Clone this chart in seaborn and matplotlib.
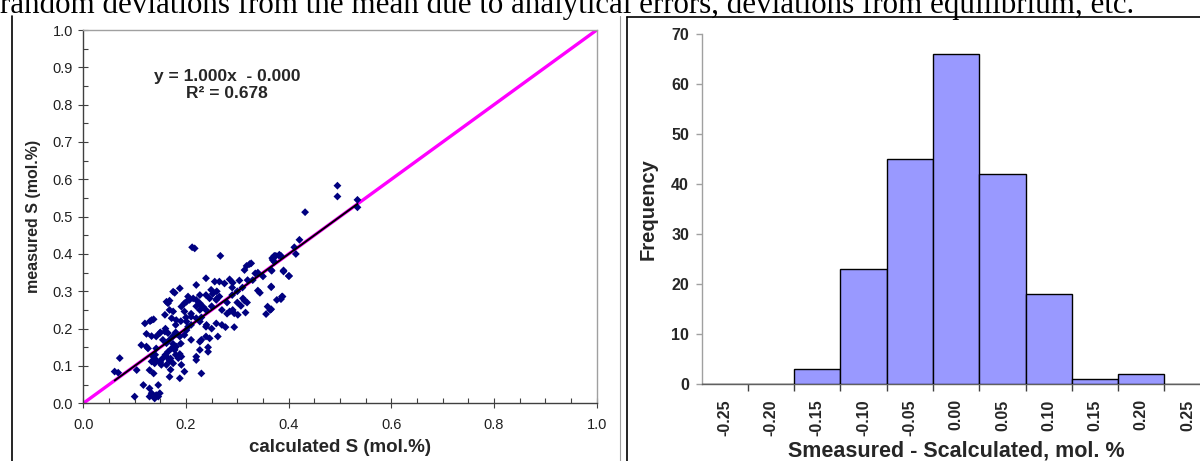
import matplotlib
matplotlib.use("Agg")
import matplotlib.pyplot as plt
from matplotlib.lines import Line2D
from matplotlib.ticker import MultipleLocator, FixedLocator, NullFormatter, FixedFormatter
import seaborn as sns
import numpy as np
import pandas as pd

# ---------------- data ----------------
calc_S = [
    0.212, 0.217, 0.267, 0.318, 0.324, 0.327, 0.314, 0.369, 0.375, 0.381,
    0.385, 0.372, 0.367, 0.390, 0.400, 0.335, 0.285, 0.304, 0.291, 0.239,
    0.256, 0.265, 0.275, 0.340, 0.344, 0.366, 0.359, 0.364, 0.356, 0.385,
    0.388, 0.311, 0.314, 0.319, 0.307, 0.316, 0.291, 0.294, 0.301, 0.285,
    0.294, 0.270, 0.277, 0.249, 0.252, 0.239, 0.246, 0.259, 0.265, 0.220,
    0.227, 0.214, 0.220, 0.227, 0.233, 0.239, 0.227, 0.204, 0.207, 0.201,
    0.197, 0.191, 0.197, 0.162, 0.165, 0.168, 0.172, 0.181, 0.168, 0.159,
    0.175, 0.178, 0.188, 0.175, 0.210, 0.220, 0.227, 0.201, 0.239, 0.259,
    0.246, 0.239, 0.227, 0.210, 0.220, 0.220, 0.227, 0.243, 0.243, 0.262,
    0.230, 0.120, 0.133, 0.137, 0.123, 0.133, 0.142, 0.113, 0.123, 0.126,
    0.142, 0.149, 0.159, 0.165, 0.175, 0.181, 0.188, 0.197, 0.155, 0.162,
    0.168, 0.175, 0.181, 0.172, 0.165, 0.178, 0.136, 0.142, 0.149, 0.155,
    0.162, 0.168, 0.175, 0.162, 0.152, 0.188, 0.191, 0.185, 0.191, 0.168,
    0.133, 0.139, 0.129, 0.137, 0.071, 0.061, 0.068, 0.104, 0.117, 0.129,
    0.146, 0.133, 0.142, 0.149, 0.139, 0.146, 0.100, 0.129, 0.188, 0.197,
    0.210, 0.201, 0.204, 0.495, 0.495, 0.534, 0.534, 0.432, 0.421, 0.411,
    0.414, 0.382, 0.372, 0.368, 0.366, 0.390, 0.401, 0.366, 0.377, 0.387,
    0.366, 0.150, 0.160, 0.170, 0.180, 0.190, 0.210, 0.230, 0.250, 0.260,
    0.280, 0.300, 0.310, 0.330, 0.290, 0.270, 0.200, 0.180, 0.160, 0.190,
    0.240, 0.140, 0.150, 0.170, 0.220, 0.260, 0.320, 0.340, 0.350, 0.300,
    0.230, 0.250, 0.290, 0.280, 0.180, 0.130,
]
meas_S = [
    0.418, 0.415, 0.395, 0.368, 0.373, 0.375, 0.357, 0.384, 0.395, 0.396,
    0.395, 0.379, 0.355, 0.353, 0.341, 0.348, 0.332, 0.329, 0.323, 0.335,
    0.326, 0.326, 0.321, 0.302, 0.296, 0.311, 0.259, 0.250, 0.239, 0.279,
    0.286, 0.281, 0.275, 0.270, 0.261, 0.243, 0.250, 0.241, 0.237, 0.246,
    0.204, 0.210, 0.204, 0.304, 0.293, 0.290, 0.281, 0.277, 0.286, 0.317,
    0.290, 0.281, 0.277, 0.268, 0.259, 0.250, 0.250, 0.286, 0.277, 0.272,
    0.268, 0.259, 0.246, 0.272, 0.268, 0.275, 0.228, 0.223, 0.250, 0.237,
    0.246, 0.296, 0.308, 0.299, 0.232, 0.228, 0.219, 0.219, 0.205, 0.214,
    0.174, 0.179, 0.165, 0.170, 0.125, 0.116, 0.143, 0.138, 0.150, 0.179,
    0.080, 0.214, 0.223, 0.225, 0.186, 0.180, 0.179, 0.156, 0.152, 0.147,
    0.147, 0.188, 0.192, 0.188, 0.180, 0.186, 0.179, 0.183, 0.170, 0.161,
    0.170, 0.159, 0.152, 0.147, 0.138, 0.143, 0.125, 0.116, 0.112, 0.121,
    0.125, 0.114, 0.107, 0.103, 0.103, 0.132, 0.125, 0.121, 0.103, 0.071,
    0.112, 0.107, 0.089, 0.080, 0.121, 0.085, 0.082, 0.089, 0.049, 0.040,
    0.049, 0.027, 0.022, 0.027, 0.013, 0.018, 0.018, 0.018, 0.067, 0.085,
    0.210, 0.196, 0.205, 0.583, 0.554, 0.545, 0.525, 0.512, 0.438, 0.418,
    0.400, 0.398, 0.395, 0.389, 0.357, 0.356, 0.341, 0.313, 0.277, 0.286,
    0.252, 0.190, 0.130, 0.120, 0.130, 0.160, 0.240, 0.230, 0.260, 0.300,
    0.270, 0.300, 0.310, 0.330, 0.290, 0.250, 0.230, 0.210, 0.200, 0.220,
    0.210, 0.130, 0.110, 0.090, 0.260, 0.280, 0.330, 0.350, 0.340, 0.270,
    0.170, 0.200, 0.310, 0.240, 0.190, 0.220,
]
fit_slope = 1.000
fit_intercept = -0.000
fit_r2 = 0.678

bin_centers = [-0.25, -0.20, -0.15, -0.10, -0.05, 0.00, 0.05, 0.10, 0.15, 0.20, 0.25]
bin_counts = [0, 0, 3, 23, 45, 66, 42, 18, 1, 2, 0]
bin_labels = ["-0.25", "-0.20", "-0.15", "-0.10", "-0.05", "0.00",
              "0.05", "0.10", "0.15", "0.20", "0.25"]

caption = "random deviations from the mean due to analytical errors, deviations from equilibrium, etc."

# ---------------- style ----------------
sns.set_style("white")
plt.rcParams['font.family'] = ['Liberation Sans', 'DejaVu Sans']

W, H = 1200, 461
fig = plt.figure(figsize=(W / 100, H / 100), dpi=100)

def fx(px):
    return px / W

def fy(py):
    return 1 - py / H

# ---------------- left: scatter ----------------
ax1 = fig.add_axes([fx(83.3), fy(403.3), fx(596.7) - fx(83.3), fy(30) - fy(403.3)])
df = pd.DataFrame({"calc": calc_S, "meas": meas_S})

ax1.axline((0, 0), slope=1, color="#FF00FF", lw=2.4, zorder=2)
sns.scatterplot(data=df, x="calc", y="meas", ax=ax1, marker="D", s=16,
                color="#000080", edgecolor="none", linewidth=0, zorder=3)
xr = np.array([min(calc_S), max(calc_S)])
sns.lineplot(x=xr, y=fit_slope * xr + fit_intercept, ax=ax1, color="black",
             lw=1.4, zorder=4)

ax1.set_xlim(0, 1)
ax1.set_ylim(0, 1)
ax1.xaxis.set_major_locator(MultipleLocator(0.2))
ax1.xaxis.set_minor_locator(MultipleLocator(0.05))
ax1.yaxis.set_major_locator(MultipleLocator(0.1))
ax1.yaxis.set_minor_locator(MultipleLocator(0.05))
ax1.xaxis.set_major_formatter(plt.FuncFormatter(lambda v, p: f"{v:.1f}"))
ax1.yaxis.set_major_formatter(plt.FuncFormatter(lambda v, p: f"{v:.1f}"))
ax1.tick_params(which="major", direction="inout", length=7, width=0.8,
                color="#404040", labelsize=10.5, labelcolor="#202020", pad=4)
ax1.tick_params(axis="x", which="major", pad=7)
ax1.tick_params(which="minor", direction="in", length=3.5, width=0.8, color="#404040")
ax1.tick_params(axis="both", which="both", bottom=True, left=True, top=False, right=False)
for s in ["left", "bottom"]:
    ax1.spines[s].set_color("#404040")
    ax1.spines[s].set_linewidth(1.0)
for s in ["top", "right"]:
    ax1.spines[s].set_color("#a0a0a0")
    ax1.spines[s].set_linewidth(1.0)
ax1.set_xlabel("calculated S (mol.%)", fontsize=13.5, fontweight="bold", labelpad=5)
ax1.set_ylabel("measured S (mol.%)", fontsize=11.5, fontweight="bold", labelpad=8)
ax1.text(0.28, 0.853,
         f"y = {fit_slope:.3f}x  - {abs(fit_intercept):.3f}\nR² = {fit_r2:.3f}",
         ha="center", va="center", fontsize=12.5, fontweight="bold",
         linespacing=1.15, transform=ax1.transData)

# ---------------- right: histogram ----------------
ax2 = fig.add_axes([fx(701.5), fy(384), fx(1210.7) - fx(701.5), fy(34) - fy(384)])
edges = [round(-0.275 + 0.05 * i, 3) for i in range(12)]
hist_df = pd.DataFrame({"center": bin_centers, "count": bin_counts})
sns.histplot(data=hist_df, x="center", weights="count", bins=edges, ax=ax2,
             color="#9999FF", alpha=1.0, edgecolor="black", linewidth=1.0,
             zorder=3)
ax2.set_xlim(-0.275, 0.275)
ax2.set_ylim(0, 70)
ax2.yaxis.set_major_locator(MultipleLocator(10))
ax2.xaxis.set_major_locator(FixedLocator(edges[1:-1]))
ax2.xaxis.set_major_formatter(NullFormatter())
ax2.xaxis.set_minor_locator(FixedLocator(bin_centers))
ax2.xaxis.set_minor_formatter(FixedFormatter(bin_labels))
ax2.tick_params(axis="x", which="major", direction="out", length=5, width=1.0,
                color="#404040", bottom=True)
ax2.tick_params(axis="x", which="minor", length=0, bottom=True, labelrotation=90,
                labelsize=11.5, pad=11)
ax2.tick_params(axis="y", which="major", direction="out", length=4, width=1.0,
                color="#a0a0a0", left=True, labelsize=11.5, pad=5)
for lab in ax2.get_xticklabels(minor=True):
    lab.set_fontweight("bold")
for lab in ax2.get_yticklabels():
    lab.set_fontweight("bold")
ax2.spines["top"].set_visible(False)
ax2.spines["right"].set_visible(False)
ax2.spines["left"].set_color("#a0a0a0")
ax2.spines["bottom"].set_color("#606060")
ax2.spines["left"].set_linewidth(1.0)
ax2.spines["bottom"].set_linewidth(1.0)
ax2.set_xlabel("Smeasured - Scalculated, mol. %", fontsize=15.5, fontweight="bold",
               labelpad=3)
ax2.set_ylabel("Frequency", fontsize=14.5, fontweight="bold", labelpad=10)

# ---------------- frames and caption ----------------
fig.add_artist(Line2D([fx(11.5), fx(11.5)], [0, fy(16)], color="black", lw=1.2))
fig.add_artist(Line2D([fx(620), fx(620)], [0, fy(16)], color="#a0a0a0", lw=0.8))
fig.add_artist(Line2D([fx(627), fx(627)], [0, fy(17)], color="black", lw=1.2))
fig.add_artist(Line2D([fx(627), 1], [fy(17), fy(17)], color="black", lw=1.2))
fig.text(0.0, fy(13), caption, fontsize=22.3, family="Liberation Serif",
         ha="left", va="baseline", color="black")

fig.savefig("out.png", dpi=100)
